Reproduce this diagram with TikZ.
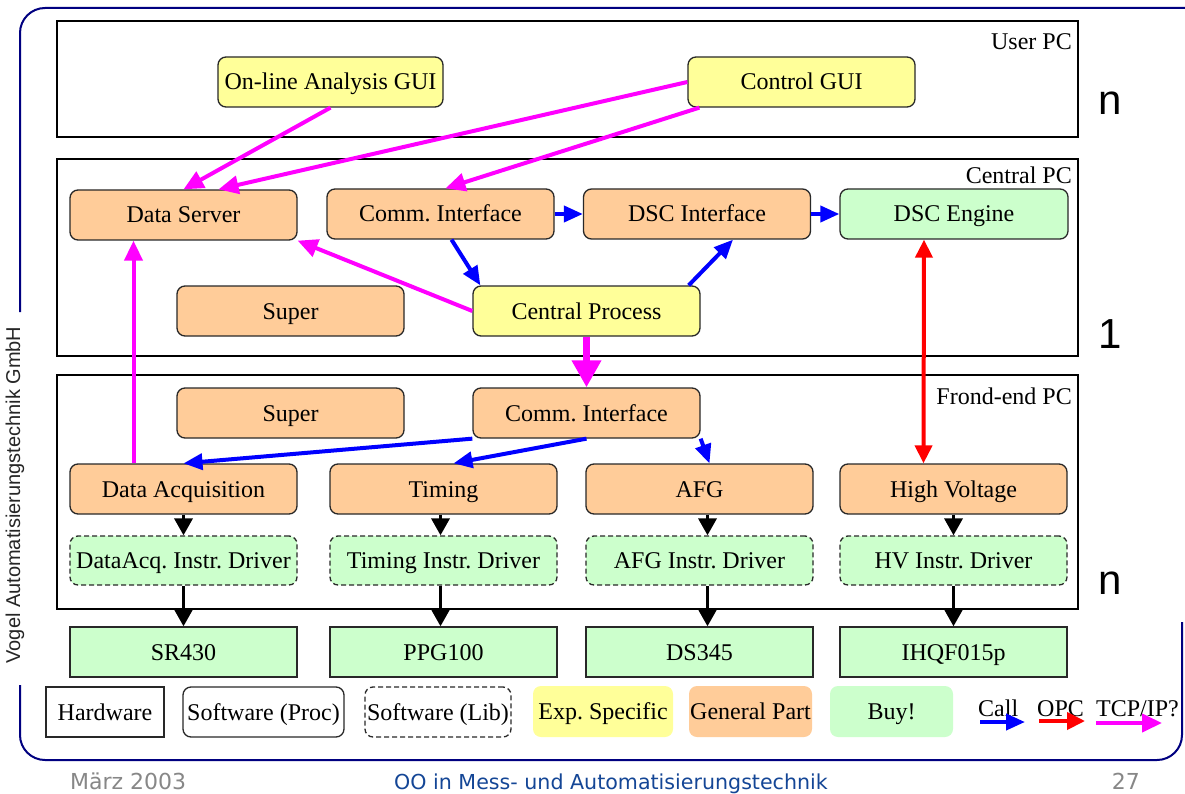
\documentclass[tikz,border=0pt]{standalone}
\usepackage{fontspec}
\setmainfont{Liberation Serif}
\newfontfamily\labelsans{Liberation Sans}
\newfontfamily\footsans{DejaVu Sans}
\usetikzlibrary{arrows.meta,calc}

\definecolor{expyellow}{RGB}{255,255,153}
\definecolor{genorange}{RGB}{255,204,153}
\definecolor{buygreen}{RGB}{204,255,204}
\definecolor{framenavy}{RGB}{0,0,128}
\definecolor{boxedge}{RGB}{40,40,40}
\definecolor{footblue}{RGB}{20,70,150}
\definecolor{footgray}{RGB}{135,135,135}
\definecolor{callblue}{RGB}{0,0,255}
\definecolor{opcred}{RGB}{255,0,0}
\definecolor{tcpmag}{RGB}{255,0,255}

\tikzset{
  txt/.style={font=\fontsize{24}{28}\selectfont},
  boxtxt/.style={txt, text height=17pt, text depth=1pt},
  panel/.style={draw=black, line width=1.5pt, inner sep=0pt},
  proc/.style={boxtxt, draw=boxedge, line width=1.3pt, rounded corners=8pt,
    minimum width=227pt, minimum height=50pt, inner sep=0pt},
  expbox/.style={proc, fill=expyellow},
  genbox/.style={proc, fill=genorange},
  buybox/.style={proc, fill=buygreen},
  libbox/.style={buybox, dash pattern=on 5pt off 3pt, minimum height=49pt},
  hwbox/.style={boxtxt, draw=boxedge, line width=1.3pt, fill=buygreen,
    minimum width=227pt, minimum height=50pt, inner sep=0pt},
  legbox/.style={boxtxt, minimum height=50pt, inner sep=0pt},
  callarrow/.style={draw=callblue, line width=4pt, -{Triangle[length=19pt,width=16pt]}},
  opcarrow/.style={draw=opcred, line width=4pt, -{Triangle[length=18pt,width=17pt]}},
  opcboth/.style={draw=opcred, line width=4pt,
    {Triangle[length=18pt,width=17pt]}-{Triangle[length=18pt,width=17pt]}},
  tcparrow/.style={draw=tcpmag, line width=4pt, -{Triangle[length=20pt,width=18pt]}},
  tcpbig/.style={draw=tcpmag, line width=7pt, -{Triangle[length=27pt,width=28pt]}},
  flow/.style={draw=black, line width=3.5pt, -{Triangle[length=17pt,width=18pt]}},
  footer/.style={font=\footsans\fontsize{22}{25}\selectfont, inner sep=0pt},
}

\begin{document}
\begin{tikzpicture}[x=1pt,y=-1pt]
\useasboundingbox (0,0) rectangle (1185,794);
\fill[white] (0,0) rectangle (1185,794);

% slide frame
\draw[framenavy, line width=2pt, rounded corners=25pt]
  (20,312) -- (20,8) -- (1190,8);
\draw[framenavy, line width=2pt, rounded corners=25pt]
  (20,685) -- (20,760) -- (1182,760) -- (1182,622);

% computer tiers
\node[panel, minimum width=1021pt, minimum height=116pt] (userpc) at (567.5,79) {};
\node[panel, minimum width=1021pt, minimum height=197pt] (centralpc) at (567.5,257.5) {};
\node[panel, minimum width=1021pt, minimum height=234pt] (frontpc) at (567.5,492) {};
\node[txt, anchor=base east, inner sep=0pt] (userlbl) at (1072,50) {User PC};
\node[txt, anchor=base east, inner sep=0pt] (centrallbl) at (1072,184) {Central PC};
\node[txt, anchor=base east, inner sep=0pt] (frontlbl) at (1072,404) {Frond-end PC};

% user PC
\node[expbox, minimum width=225pt] (ongui) at (330.5,82) {On-line Analysis GUI};
\node[expbox] (ctrlgui) at (801.5,82) {Control GUI};

% central PC
\node[genbox] (dserv) at (183.5,215) {Data Server};
\node[genbox] (comm1) at (440.5,214) {Comm.\ Interface};
\node[genbox] (dscif) at (697,214) {DSC Interface};
\node[buybox, minimum width=228pt] (dsceng) at (954,214) {DSC Engine};
\node[genbox] (super1) at (290.5,311) {Super};
\node[expbox] (cproc) at (586.5,311) {Central Process};

% front-end PC
\node[genbox] (super2) at (290.5,413) {Super};
\node[genbox] (comm2) at (586.5,413) {Comm.\ Interface};
\node[genbox] (daq) at (183.5,489) {Data Acquisition};
\node[genbox] (timing) at (443.5,489) {Timing};
\node[genbox] (afg) at (699.5,489) {AFG};
\node[genbox] (hv) at (953.5,489) {High Voltage};
\node[libbox] (drv1) at (183.5,560.5) {DataAcq.\ Instr.\ Driver};
\node[libbox] (drv2) at (443.5,560.5) {Timing Instr.\ Driver};
\node[libbox] (drv3) at (699.5,560.5) {AFG Instr.\ Driver};
\node[libbox] (drv4) at (953.5,560.5) {HV Instr.\ Driver};

% instruments
\node[hwbox] (sr430) at (183.5,652) {SR430};
\node[hwbox] (ppg100) at (443.5,652) {PPG100};
\node[hwbox] (ds345) at (699.5,652) {DS345};
\node[hwbox] (ihqf) at (953.5,652) {IHQF015p};

% multiplicities
\node[font=\labelsans\fontsize{42}{46}\selectfont, inner sep=0pt] (mult1) at (1110,103) {n};
\node[font=\labelsans\fontsize{42}{46}\selectfont, inner sep=0pt] (mult2) at (1110,334) {1};
\node[font=\labelsans\fontsize{42}{46}\selectfont, inner sep=0pt] (mult3) at (1110,583) {n};

% legend
\node[legbox, draw=boxedge, line width=1.3pt, minimum width=118pt] (hwleg) at (105,712) {Hardware};
\node[legbox, draw=boxedge, line width=1.3pt, rounded corners=8pt, minimum width=161pt] (procleg) at (263.5,712) {Software (Proc)};
\node[legbox, draw=boxedge, line width=1.3pt, rounded corners=8pt, dash pattern=on 5pt off 3pt, minimum width=146pt] (libleg) at (438,712) {Software (Lib)};
\node[legbox, fill=expyellow, rounded corners=8pt, minimum width=140pt, minimum height=51pt] (expleg) at (603,711.5) {Exp.\ Specific};
\node[legbox, fill=genorange, rounded corners=8pt, minimum width=123pt, minimum height=51pt] (genleg) at (750.5,711.5) {General Part};
\node[legbox, fill=buygreen, rounded corners=8pt, minimum width=123pt, minimum height=51pt] (buyleg) at (891.5,711.5) {Buy!};
\node[txt, anchor=base west, inner sep=0pt] (calltxt) at (978,716) {Call};
\node[txt, anchor=base west, inner sep=0pt] (opctxt) at (1037,716) {OPC};
\node[txt, anchor=base west, inner sep=0pt] (tcptxt) at (1096,716) {TCP/IP?};
\coordinate (callA) at (980,722);
\coordinate (callB) at (1025,722);
\coordinate (opcA) at (1039,721);
\coordinate (opcB) at (1085,721);
\coordinate (tcpA) at (1096,723);
\coordinate (tcpB) at (1162,723);
\draw[callarrow] (callA) -- (callB);
\draw[opcarrow] (opcA) -- (opcB);
\draw[tcparrow] (tcpA) -- (tcpB);

% company and footer
\node[font=\labelsans\fontsize{20}{23}\selectfont, text=black!85, rotate=90, inner sep=0pt] (vogel) at (15,495) {Vogel Automatisierungstechnik GmbH};
\node[footer, text=footgray, anchor=base west] (datum) at (70,789) {März 2003};
\node[footer, font=\footsans\fontsize{20.6}{24}\selectfont, text=footblue, anchor=base] (titel) at (611,789) {OO in Mess- und Automatisierungstechnik};
\node[footer, text=footgray, anchor=base east] (seite) at (1140,789) {27};

% TCP/IP links
\draw[tcparrow] (ongui.south) -- (dserv.north);
\draw[tcparrow] (ctrlgui.west) -- ($(dserv.north)+(35,0)$);
\draw[tcparrow] ($(ctrlgui.south west)+(12,0)$) -- ($(comm1.north)+(5,0)$);
\draw[tcparrow] (cproc.west) -- (dserv.south east);
\draw[tcparrow] ($(daq.north)+(-50,0)$) -- ($(dserv.south)+(-50,0)$);
\draw[tcpbig] (cproc.south) -- (comm2.north);

% calls
\draw[callarrow] (comm1.east) -- (dscif.west);
\draw[callarrow] (dscif.east) -- (dsceng.west);
\draw[callarrow] ($(comm1.south)+(11,0)$) -- ($(cproc.north west)+(8,0)$);
\draw[callarrow] ($(cproc.north east)+(-12,0)$) -- ($(dscif.south)+(36,0)$);
\draw[callarrow] (comm2.south west) -- (daq.north);
\draw[callarrow] (comm2.south) -- ($(timing.north)+(10,0)$);
\draw[callarrow] (comm2.south east) -- ($(afg.north)+(10,0)$);

% OPC link
\draw[opcboth] ($(dsceng.south)+(-30,0)$) -- ($(hv.north)+(-30,0)$);

% driver chains
\draw[flow] (daq.south) -- (drv1.north);
\draw[flow] ($(timing.south)+(-3,0)$) -- ($(drv2.north)+(-3,0)$);
\draw[flow] ($(afg.south)+(8,0)$) -- ($(drv3.north)+(8,0)$);
\draw[flow] (hv.south) -- (drv4.north);
\draw[flow] (drv1.south) -- (sr430.north);
\draw[flow] ($(drv2.south)+(-3,0)$) -- ($(ppg100.north)+(-3,0)$);
\draw[flow] ($(drv3.south)+(8,0)$) -- ($(ds345.north)+(8,0)$);
\draw[flow] (drv4.south) -- (ihqf.north);
\end{tikzpicture}
\end{document}
